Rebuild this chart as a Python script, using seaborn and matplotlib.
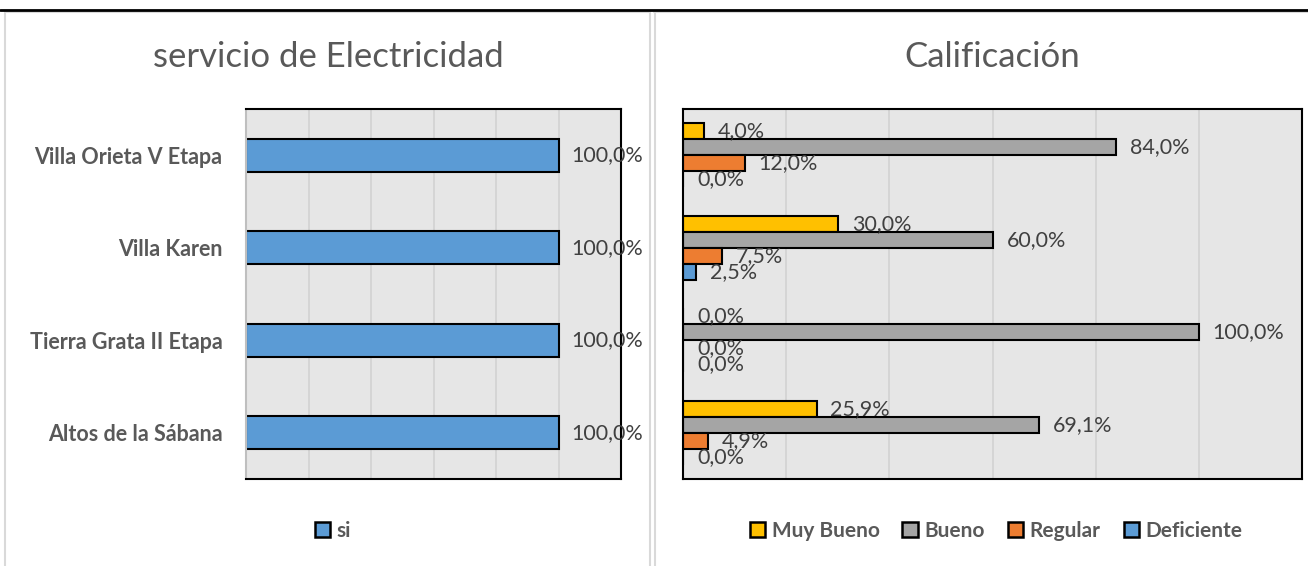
import numpy as np
import pandas as pd
import matplotlib
matplotlib.use("Agg")
import matplotlib.pyplot as plt
import seaborn as sns
from matplotlib.patches import Patch
from matplotlib.lines import Line2D

# ---- data ----
barrios = ["Villa Orieta V Etapa", "Villa Karen", "Tierra Grata II Etapa", "Altos de la Sábana"]
electricidad_si = [100.0, 100.0, 100.0, 100.0]

niveles = ["Muy Bueno", "Bueno", "Regular", "Deficiente"]
muy_bueno = [4.0, 30.0, 0.0, 25.9]
bueno = [84.0, 60.0, 100.0, 69.1]
regular = [12.0, 7.5, 0.0, 4.9]
deficiente = [0.0, 2.5, 0.0, 0.0]

azul = "#5B9BD5"
colores = ["#FFC000", "#A5A5A5", "#ED7D31", "#5B9BD5"]

# ---- style ----
sns.set_style("white")
plt.rcParams["font.family"] = ["Lato", "DejaVu Sans"]

W, H = 1308, 566
fig = plt.figure(figsize=(W / 100, H / 100), dpi=100)


def px_axes(x0, y0, x1, y1):
    return fig.add_axes([x0 / W, 1 - y1 / H, (x1 - x0) / W, (y1 - y0) / H])


def pct(v):
    return f"{v:.1f}%".replace(".", ",")


TXT = "#595959"
LBL = "#404040"
BG = "#E6E6E6"
GRID = "#D2D2D2"


def style_axes(ax, left_color):
    ax.set_facecolor(BG)
    ax.set_xlim(0, 120)
    ax.set_xticks(np.arange(0, 121, 20))
    ax.xaxis.grid(True, color=GRID, lw=1.2)
    ax.yaxis.grid(False)
    ax.set_axisbelow(True)
    ax.tick_params(axis="x", length=0, labelbottom=False)
    ax.set_xlabel("")
    ax.set_ylabel("")
    for s in ["top", "right", "bottom"]:
        ax.spines[s].set_visible(True)
        ax.spines[s].set_color("black")
        ax.spines[s].set_linewidth(1.5)
    ax.spines["left"].set_visible(True)
    ax.spines["left"].set_color(left_color)
    ax.spines["left"].set_linewidth(1.5)


# ---- left: servicio de Electricidad ----
ax1 = px_axes(246, 109, 621, 479)
df1 = pd.DataFrame({"barrio": barrios, "si": electricidad_si})
sns.barplot(data=df1, x="si", y="barrio", color=azul, edgecolor="black",
            linewidth=1.5, width=0.355, saturation=1, ax=ax1)
style_axes(ax1, "#BFBFBF")
ax1.set_ylim(3.5, -0.5)
ax1.tick_params(axis="y", length=0, pad=17)
for t in ax1.get_yticklabels():
    t.set_fontweight("bold")
    t.set_fontsize(15.5)
    t.set_color(TXT)
for cont in ax1.containers:
    ax1.bar_label(cont, labels=[pct(v) for v in electricidad_si], padding=9,
                  fontsize=15.5, color=LBL, clip_on=False)

# ---- right: Calificación ----
ax2 = px_axes(683, 109, 1302, 479)
df2 = pd.DataFrame({
    "barrio": barrios * 4,
    "nivel": sum([[n] * len(barrios) for n in niveles], []),
    "valor": muy_bueno + bueno + regular + deficiente,
})
sns.barplot(data=df2, x="valor", y="barrio", hue="nivel", hue_order=niveles,
            order=barrios, palette=colores, edgecolor="black", linewidth=1.5,
            width=0.69, saturation=1, legend=False, ax=ax2)
style_axes(ax2, "black")
ax2.set_ylim(3.5, -0.5)
ax2.tick_params(axis="y", length=0, labelleft=False)
series = [muy_bueno, bueno, regular, deficiente]
for cont, vals in zip(ax2.containers, series):
    ax2.bar_label(cont, labels=[pct(v) for v in vals], padding=10,
                  fontsize=15.5, color=LBL, clip_on=False)

# ---- titles ----
fig.text(328 / W, 1 - 57 / H, "servicio de Electricidad", ha="center", va="center",
         fontsize=25, color=TXT)
fig.text(992 / W, 1 - 57 / H, "Calificación", ha="center", va="center",
         fontsize=25, color=TXT)

# ---- legends ----
def square(c):
    return Patch(facecolor=c, edgecolor="black", linewidth=1.8)

leg_kw = dict(frameon=False, handlelength=0.75, handleheight=0.75, handletextpad=0.3,
              prop={"weight": "bold", "size": 15})
leg1 = fig.legend([square(azul)], ["si"], loc="center",
                  bbox_to_anchor=(333 / W, 1 - 531 / H), **leg_kw)
for t in leg1.get_texts():
    t.set_color(TXT)
leg2 = fig.legend([square(c) for c in colores], niveles, loc="center", ncol=4,
                  bbox_to_anchor=(996 / W, 1 - 531 / H), columnspacing=1.1, **leg_kw)
for t in leg2.get_texts():
    t.set_color(TXT)

# ---- panel frames ----
def fline(xs, ys, color, lw):
    fig.add_artist(Line2D([x / W for x in xs], [1 - y / H for y in ys],
                          transform=fig.transFigure, color=color, lw=lw))

fline([5, 649], [11.5, 11.5], "#D9D9D9", 1.5)
fline([654, W], [11.5, 11.5], "#D9D9D9", 1.5)
fline([5.5, 5.5], [11, H], "#D9D9D9", 1.5)
fline([649.5, 649.5], [11, H], "#D9D9D9", 1.5)
fline([654.5, 654.5], [11, H], "#D9D9D9", 1.5)
fline([0, W], [9.5, 9.5], "black", 2)

fig.savefig("out.png", dpi=100)
